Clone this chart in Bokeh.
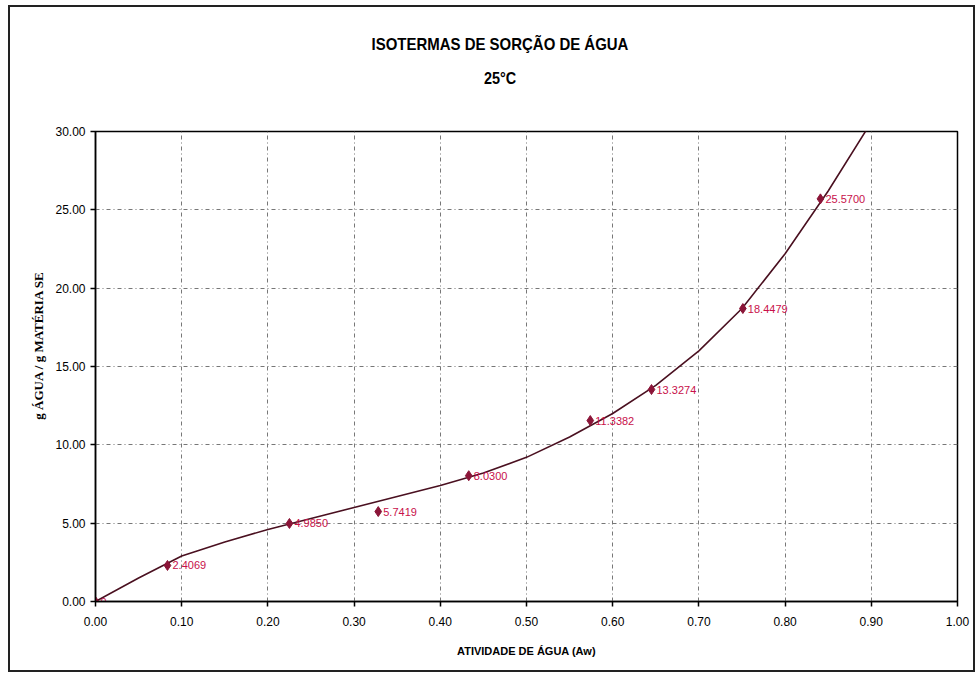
from bokeh.plotting import figure
from bokeh.layouts import column, row
from bokeh.models import ColumnDataSource, FixedTicker, NumeralTickFormatter, Range1d, Div
from bokeh.core.properties import value
from bokeh.embed import file_html
from bokeh.resources import INLINE

# measured points
aw = [0.0, 0.0835, 0.225, 0.328, 0.433, 0.574, 0.645, 0.751, 0.841]
moisture = [0.0, 2.30, 4.98, 5.74, 8.03, 11.55, 13.53, 18.70, 25.70]
point_labels = ["0", "2.4069", "4.9850", "5.7419", "8.0300", "11.3382", "13.3274", "18.4479", "25.5700"]

# trend line
trend_x = [0.0, 0.05, 0.10, 0.15, 0.20, 0.25, 0.30, 0.35, 0.40, 0.45, 0.50,
           0.55, 0.60, 0.65, 0.70, 0.75, 0.80, 0.85, 0.90]
trend_y = [0.0, 1.5, 2.9, 3.8, 4.6, 5.3, 6.0, 6.7, 7.4, 8.2, 9.2,
           10.5, 12.0, 13.8, 16.0, 18.7, 22.2, 26.2, 30.6]

x_ticks = [0.0, 0.1, 0.2, 0.3, 0.4, 0.5, 0.6, 0.7, 0.8, 0.9, 1.0]
y_ticks = [0, 5, 10, 15, 20, 25, 30]

title_text = "ISOTERMAS DE SORÇÃO DE ÁGUA"
subtitle_text = "25°C"
x_label = "ATIVIDADE DE ÁGUA (Aw)"
y_label = "g ÁGUA / g MATÉRIA SE"

FONT = "'Liberation Sans', sans-serif"

head = Div(width=963, height=110, margin=0, text=(
    '<div style="position:relative;width:963px;height:110px;font-family:\'Liberation Sans\',sans-serif;'
    'font-weight:bold;color:#000;">'
    '<div style="position:absolute;left:490px;top:38px;white-space:nowrap;font-size:17px;line-height:20px;'
    'transform:translate(-50%,-50%) scaleX(0.88);">' + title_text + '</div>'
    '<div style="position:absolute;left:490px;top:72px;white-space:nowrap;font-size:16px;line-height:20px;'
    'transform:translate(-50%,-50%) scaleX(0.9);">' + subtitle_text + '</div>'
    '</div>'))

ylab = Div(width=40, height=553, margin=0, text=(
    '<div style="position:relative;width:40px;height:553px;">'
    '<div style="position:absolute;left:28px;top:229px;white-space:nowrap;'
    'font-family:\'Liberation Serif\',serif;font-weight:bold;font-size:13px;line-height:15px;color:#000;'
    'transform:translate(-50%,-50%) rotate(-90deg);">' + y_label + '</div>'
    '</div>'))

p = figure(width=923, height=553, output_backend="svg", toolbar_location=None,
           x_range=Range1d(0, 1.0), y_range=Range1d(0, 30),
           min_border_left=45, min_border_right=16, min_border_top=14, min_border_bottom=69)
p.title = None
p.background_fill_color = "white"
p.border_fill_color = "white"
p.outline_line_color = "black"
p.outline_line_width = 1.5

for ax in (p.xaxis[0], p.yaxis[0]):
    ax.axis_line_color = "black"
    ax.axis_line_width = 1.5
    ax.major_tick_line_color = "black"
    ax.major_tick_line_width = 1.5
    ax.major_tick_out = 5
    ax.major_tick_in = 0
    ax.minor_tick_line_color = None
    ax.major_label_text_font = FONT
    ax.major_label_text_font_size = "12px"
    ax.major_label_text_color = "black"
    ax.axis_label_text_font = FONT
    ax.axis_label_text_font_size = "11px"
    ax.axis_label_text_font_style = "bold"
    ax.axis_label_text_color = "black"

p.xaxis[0].ticker = FixedTicker(ticks=x_ticks)
p.yaxis[0].ticker = FixedTicker(ticks=y_ticks)
p.xaxis[0].formatter = NumeralTickFormatter(format="0.00")
p.yaxis[0].formatter = NumeralTickFormatter(format="0.00")
p.xaxis[0].axis_label = x_label
p.xaxis[0].axis_label_standoff = 16
p.xaxis[0].major_label_standoff = 10

p.xgrid[0].ticker = FixedTicker(ticks=x_ticks)
p.ygrid[0].ticker = FixedTicker(ticks=y_ticks)
for g in (p.xgrid[0], p.ygrid[0]):
    g.grid_line_color = "#777777"
    g.grid_line_width = 1
    g.grid_line_dash = "4 3 1 3"

p.line(trend_x, trend_y, line_color="#4a1020", line_width=1.6)

src = ColumnDataSource(dict(x=aw, y=moisture, lab=point_labels))
p.scatter("x", "y", source=src, marker="diamond", size=10, fill_color="#8b1538",
          line_color="#8b1538")
p.text("x", "y", text="lab", source=src, x_offset=5, text_baseline="middle",
       text_font=value(FONT), text_font_size="11px", text_color="#c8104a")

layout = column(head, row(ylab, p, spacing=0), spacing=0,
                styles={"border": "2px solid #222222", "margin-left": "8px", "margin-top": "5px",
                        "background-color": "white"})

open("out.html", "w").write(file_html(layout, INLINE))
